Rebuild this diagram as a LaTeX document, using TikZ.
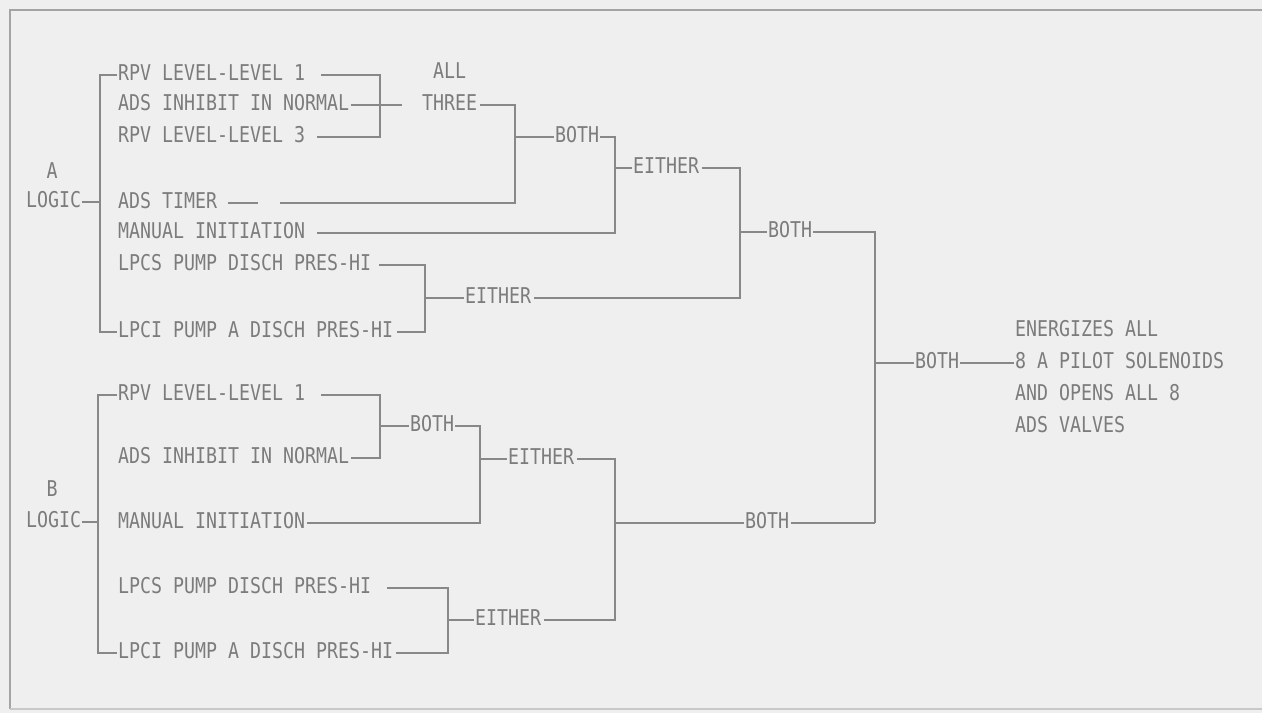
\documentclass[tikz,border=0pt]{standalone}
\usepackage{fontspec}
\newfontfamily\plotfont[FakeStretch=0.84]{DejaVu Sans Mono}
\definecolor{bg}{HTML}{EFEFEF}
\definecolor{ink}{HTML}{888888}
\definecolor{txt}{HTML}{7C7C7C}
\definecolor{framec}{HTML}{A4A4A4}
\tikzset{
  lbl/.style={anchor=base west, inner sep=0pt, font=\plotfont\fontsize{21.75}{22}\selectfont, text=txt},
  wire/.style={draw=ink, line width=1.2pt},
  framel/.style={draw=framec, line width=1.4pt},
}
\begin{document}
\begin{tikzpicture}[x=1pt,y=-1pt]
\fill[bg] (0,0) rectangle (1262,713);
\useasboundingbox (0,0) rectangle (1262,713);
% frame
\draw[framel] (1262,10) -- (10,10) -- (10,709);
\draw[framel, draw=framec!60] (10,709) -- (1262,709);

% ---------------- A logic ----------------
\node[lbl, anchor=base] (aA) at (52,178) {A};
\node[lbl] (aLOGIC) at (26,207) {LOGIC};
\node[lbl] (aRPV1) at (118,80) {RPV LEVEL-LEVEL 1};
\node[lbl] (aINH)  at (118,110) {ADS INHIBIT IN NORMAL};
\node[lbl] (aRPV3) at (118,142) {RPV LEVEL-LEVEL 3};
\node[lbl] (aTMR)  at (118,208) {ADS TIMER};
\node[lbl] (aMAN)  at (118,238) {MANUAL INITIATION};
\node[lbl] (aLPCS) at (118,270) {LPCS PUMP DISCH PRES-HI};
\node[lbl] (aLPCI) at (118,337) {LPCI PUMP A DISCH PRES-HI};
\node[lbl] (all)   at (433,78) {ALL};
\node[lbl] (three) at (422,110) {THREE};
\node[lbl] (bothA1) at (555,142) {BOTH};
\node[lbl] (eitherA1) at (633,173) {EITHER};
\node[lbl] (eitherA2) at (465,303) {EITHER};
\node[lbl] (bothA2) at (768,237) {BOTH};

% junction coordinates (A)
\coordinate (brAt) at (100,75);
\coordinate (brAm) at (100,202);
\coordinate (brAb) at (100,332);
\coordinate (j3t) at (380,75);
\coordinate (j3b) at (380,137);
\coordinate (jTt) at (515,105);
\coordinate (jTm) at (515,137);
\coordinate (jTb) at (515,203);
\coordinate (jB1t) at (615,137);
\coordinate (jB1m) at (615,168);
\coordinate (jB1b) at (615,233);
\coordinate (jE1t) at (740,168);
\coordinate (jE1m) at (740,232);
\coordinate (jE1b) at (740,298);
\coordinate (jPt) at (425,265);
\coordinate (jPm) at (425,298);
\coordinate (jPb) at (425,332);
\coordinate (jFt) at (875,232);
\coordinate (jFm) at (875,363);
\coordinate (jFb) at (875,523);

\draw[wire] ([shift={(-1,-5)}]aRPV1.base west) -- (brAt) -- (brAb) -- ([shift={(-1,-5)}]aLPCI.base west);
\draw[wire] ([shift={(1,-5)}]aLOGIC.base east) -- (brAm);
\draw[wire] ([shift={(16,-5)}]aRPV1.base east) -- (j3t) -- (j3b) -- ([shift={(12,-5)}]aRPV3.base east);
\draw[wire] ([shift={(2,-5)}]aINH.base east) -- ([shift={(-20,-5)}]three.base west);
\draw[wire] ([shift={(3,-5)}]three.base east) -- (jTt) -- (jTb) -- ([shift={(63,-5)}]aTMR.base east);
\draw[wire] ([shift={(11,-5)}]aTMR.base east) -- ([shift={(41,-5)}]aTMR.base east);
\draw[wire] (jTm) -- ([shift={(-1,-5)}]bothA1.base west);
\draw[wire] ([shift={(1,-5)}]bothA1.base east) -- (jB1t) -- (jB1b) -- ([shift={(12,-5)}]aMAN.base east);
\draw[wire] (jB1m) -- ([shift={(-1,-5)}]eitherA1.base west);
\draw[wire] ([shift={(3,-5)}]eitherA1.base east) -- (jE1t) -- (jE1b) -- ([shift={(3,-5)}]eitherA2.base east);
\draw[wire] ([shift={(8,-5)}]aLPCS.base east) -- (jPt) -- (jPb) -- ([shift={(4,-5)}]aLPCI.base east);
\draw[wire] (jPm) -- ([shift={(-1,-5)}]eitherA2.base west);
\draw[wire] (jE1m) -- ([shift={(-1,-5)}]bothA2.base west);

% ---------------- final ----------------
\node[lbl] (bothF) at (915,368) {BOTH};
\node[lbl] (out1) at (1015,336) {ENERGIZES ALL};
\node[lbl] (out2) at (1015,368) {8 A PILOT SOLENOIDS};
\node[lbl] (out3) at (1015,400) {AND OPENS ALL 8};
\node[lbl] (out4) at (1015,432) {ADS VALVES};
\draw[wire] ([shift={(1,-5)}]bothA2.base east) -- (jFt) -- (jFb);
\draw[wire] (jFm) -- ([shift={(-1,-5)}]bothF.base west);
\draw[wire] ([shift={(1,-5)}]bothF.base east) -- ([shift={(-1,-5)}]out2.base west);

% ---------------- B logic ----------------
\node[lbl, anchor=base] (bB) at (52,496) {B};
\node[lbl] (bLOGIC) at (26,527) {LOGIC};
\node[lbl] (bRPV1) at (118,400) {RPV LEVEL-LEVEL 1};
\node[lbl] (bINH)  at (118,463) {ADS INHIBIT IN NORMAL};
\node[lbl] (bMAN)  at (118,528) {MANUAL INITIATION};
\node[lbl] (bLPCS) at (118,593) {LPCS PUMP DISCH PRES-HI};
\node[lbl] (bLPCI) at (118,658) {LPCI PUMP A DISCH PRES-HI};
\node[lbl] (bothB1) at (410,431) {BOTH};
\node[lbl] (eitherB1) at (508,464) {EITHER};
\node[lbl] (eitherB2) at (475,625) {EITHER};
\node[lbl] (bothB2) at (745,528) {BOTH};

\coordinate (brBt) at (98,395);
\coordinate (brBm) at (98,522);
\coordinate (brBb) at (98,653);
\coordinate (k1t) at (380,395);
\coordinate (k1m) at (380,426);
\coordinate (k1b) at (380,458);
\coordinate (k2t) at (480,426);
\coordinate (k2m) at (480,459);
\coordinate (k2b) at (480,523);
\coordinate (k3t) at (615,459);
\coordinate (k3m) at (615,523);
\coordinate (k3b) at (615,620);
\coordinate (k4t) at (448,588);
\coordinate (k4m) at (448,620);
\coordinate (k4b) at (448,653);

\draw[wire] ([shift={(-1,-5)}]bRPV1.base west) -- (brBt) -- (brBb) -- ([shift={(-1,-5)}]bLPCI.base west);
\draw[wire] ([shift={(1,-5)}]bLOGIC.base east) -- (brBm);
\draw[wire] ([shift={(16,-5)}]bRPV1.base east) -- (k1t) -- (k1b) -- ([shift={(2,-5)}]bINH.base east);
\draw[wire] (k1m) -- ([shift={(-1,-5)}]bothB1.base west);
\draw[wire] ([shift={(1,-5)}]bothB1.base east) -- (k2t) -- (k2b) -- ([shift={(2,-5)}]bMAN.base east);
\draw[wire] (k2m) -- ([shift={(-1,-5)}]eitherB1.base west);
\draw[wire] ([shift={(3,-5)}]eitherB1.base east) -- (k3t) -- (k3b) -- ([shift={(3,-5)}]eitherB2.base east);
\draw[wire] ([shift={(16,-5)}]bLPCS.base east) -- (k4t) -- (k4b) -- ([shift={(3,-5)}]bLPCI.base east);
\draw[wire] (k4m) -- ([shift={(-1,-5)}]eitherB2.base west);
\draw[wire] (k3m) -- ([shift={(-1,-5)}]bothB2.base west);
\draw[wire] ([shift={(2,-5)}]bothB2.base east) -- (jFb);
\end{tikzpicture}
\end{document}
